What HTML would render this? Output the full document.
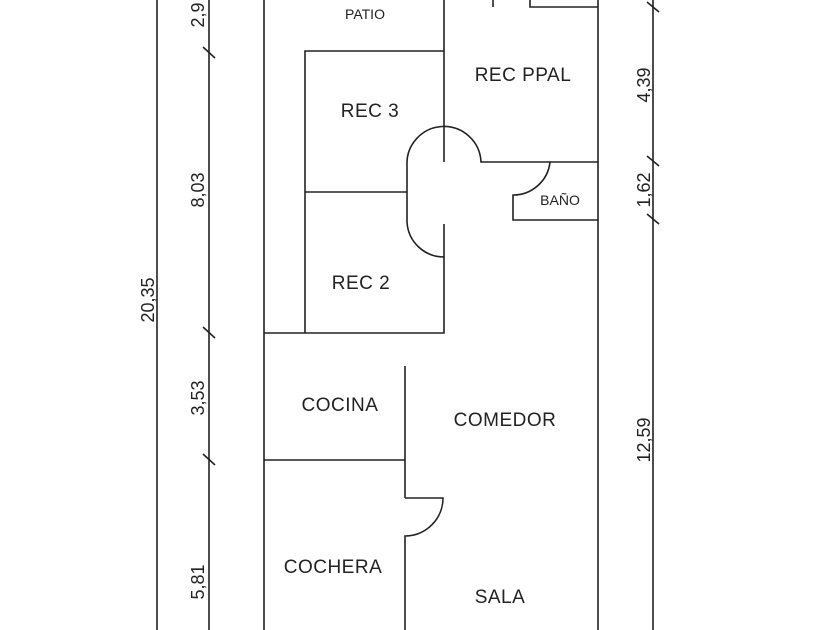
<!DOCTYPE html>
<html><head><style>
html,body{margin:0;padding:0;background:#fff;}
svg{display:block;}
text{font-family:"Liberation Sans",sans-serif;fill:#222;}
</style></head><body>
<svg width="840" height="630" viewBox="0 0 840 630" xmlns="http://www.w3.org/2000/svg">
<g stroke="#222" stroke-width="1.6" fill="none">
<line x1="157" y1="0" x2="157" y2="630"/>
<line x1="209" y1="0" x2="209" y2="630"/>
<line x1="203" y1="47" x2="215" y2="58"/>
<line x1="203" y1="327" x2="215" y2="338"/>
<line x1="203" y1="454" x2="215" y2="465"/>
<line x1="653" y1="0" x2="653" y2="630"/>
<line x1="647" y1="2" x2="659" y2="12"/>
<line x1="647" y1="156" x2="659" y2="166"/>
<line x1="647" y1="214" x2="659" y2="224"/>
<line x1="264" y1="0" x2="264" y2="630"/>
<line x1="598" y1="0" x2="598" y2="630"/>
<line x1="493" y1="0" x2="493" y2="7"/>
<path d="M530,0 V7 H598"/>
<line x1="444" y1="0" x2="444" y2="162"/>
<path d="M407,165 A37,37 0 0 1 481,162 H598"/>
<path d="M407,165 V222 A37,37 0 0 0 444,257 V224"/>
<path d="M444,51 H305 V333"/>
<line x1="305" y1="192" x2="407" y2="192"/>
<path d="M264,333 H444 V257"/>
<path d="M550,162 A37,37 0 0 1 513,195 V220 H598"/>
<line x1="405" y1="366" x2="405" y2="498"/>
<line x1="264" y1="460" x2="405" y2="460"/>
<path d="M405,498 H443 A38,38 0 0 1 405,536 V630"/>
</g>
<g font-size="19" letter-spacing="0.5">
<text x="370" y="117" text-anchor="middle">REC 3</text>
<text x="523" y="81" text-anchor="middle">REC PPAL</text>
<text x="361" y="289" text-anchor="middle">REC 2</text>
<text x="340" y="411" text-anchor="middle">COCINA</text>
<text x="505" y="426" text-anchor="middle">COMEDOR</text>
<text x="333" y="573" text-anchor="middle">COCHERA</text>
<text x="500" y="603" text-anchor="middle">SALA</text>
</g>
<text x="365" y="19" text-anchor="middle" font-size="14">PATIO</text>
<text x="560" y="205" text-anchor="middle" font-size="14">BAÑO</text>
<g font-size="18" text-anchor="middle">
<text transform="translate(204,15) rotate(-90)">2,9</text>
<text transform="translate(204,190) rotate(-90)">8,03</text>
<text transform="translate(154,300) rotate(-90)">20,35</text>
<text transform="translate(204,398) rotate(-90)">3,53</text>
<text transform="translate(204,582) rotate(-90)">5,81</text>
<text transform="translate(650,85) rotate(-90)">4,39</text>
<text transform="translate(650,190) rotate(-90)">1,62</text>
<text transform="translate(650,440) rotate(-90)">12,59</text>
</g>
</svg>
</body></html>
